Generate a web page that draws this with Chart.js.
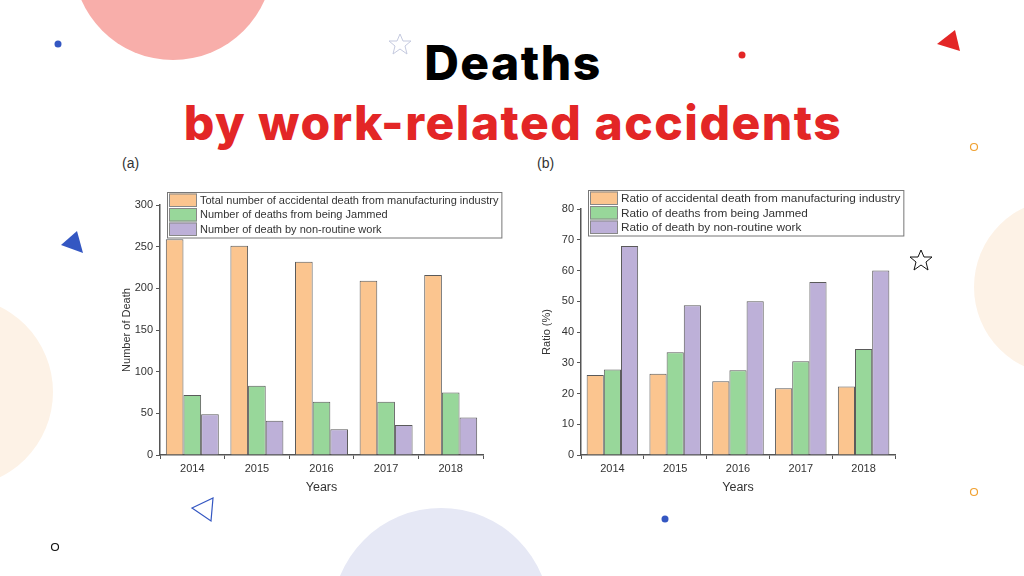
<!DOCTYPE html>
<html>
<head>
<meta charset="utf-8">
<script src="https://cdn.jsdelivr.net/npm/chart.js@4.4.1/dist/chart.umd.min.js"></script>
<style>
  html, body { margin: 0; padding: 0; background: #fff; }
  #page { position: relative; width: 1024px; height: 576px; overflow: hidden; background: #fff; }
  #deco { position: absolute; left: 0; top: 0; }
  .title { position: absolute; left: 1px; width: 1024px; text-align: center; font-family: Inter, "Noto Sans", sans-serif; font-weight: 800; white-space: nowrap; letter-spacing: 1.5px; }
  #t1 { top: 33px; font-size: 48px; color: #000; }
  #t2 { top: 93px; font-size: 48px; color: #e32626; }
  .panel { position: absolute; font-family: "Liberation Sans", Arial, sans-serif; font-size: 14px; color: #333; }
  .box { position: absolute; width: 400px; height: 360px; top: 150px; }
</style>
</head>
<body>
<div id="page">
  <svg id="deco" width="1024" height="576">
    <circle cx="173" cy="-40" r="100" fill="#f8aeaa"/>
    <circle cx="-42" cy="392" r="95" fill="#fdf2e6"/>
    <circle cx="1062" cy="287" r="88" fill="#fdf2e6"/>
    <circle cx="441" cy="617" r="109" fill="#e6e8f5"/>
    <circle cx="58" cy="44" r="3.5" fill="#3457c2"/>
    <circle cx="742" cy="55" r="3.5" fill="#e32626"/>
    <circle cx="665" cy="519" r="3.5" fill="#3457c2"/>
    <polygon points="61,245 77,231 83,253" fill="#3457c2"/>
    <polygon points="937,44 955,30 960,51" fill="#e32626"/>
    <polygon points="192,508 213,498 211,521" fill="none" stroke="#3457c2" stroke-width="1.2"/>
    <circle cx="974" cy="147" r="3.5" fill="none" stroke="#f0a030" stroke-width="1.2"/>
    <circle cx="974" cy="492" r="3.5" fill="none" stroke="#f0a030" stroke-width="1.2"/>
    <circle cx="55" cy="547" r="3.5" fill="none" stroke="#111" stroke-width="1.2"/>
    <polygon points="400,34 403,41 411,41 405,46 407,54 400,49 393,54 395,46 389,41 397,41" fill="none" stroke="#c5cadf" stroke-width="1"/>
    <polygon points="921,250 924,257 932,257 926,262 928,270 921,265 914,270 916,262 910,257 918,257" fill="none" stroke="#111" stroke-width="1"/>
  </svg>
  <div class="title" id="t1">Deaths</div>
  <div class="title" id="t2">by work-related accidents</div>
  <div class="panel" style="left:122px; top:155px;">(a)</div>
  <div class="panel" style="left:537px; top:155px;">(b)</div>
  <div class="box" style="left:110px;"><canvas id="chartA"></canvas></div>
  <div class="box" style="left:530px;"><canvas id="chartB"></canvas></div>
</div>
<script>
const years = ['2014', '2015', '2016', '2017', '2018'];

// (a) number of deaths
const totalDeaths = [259, 251, 232, 209, 216];
const jammedDeaths = [72, 83, 64, 64, 75];
const nonRoutineDeaths = [49, 41, 31, 36, 45];

// (b) ratios in %
const ratioManufacturing = [26.0, 26.4, 24.0, 21.7, 22.3];
const ratioJammed = [27.8, 33.4, 27.6, 30.5, 34.5];
const ratioNonRoutine = [68.0, 48.7, 50.0, 56.3, 60.0];

const labelsA = ['Total number of accidental death from manufacturing industry', 'Number of deaths from being Jammed', 'Number of death by non-routine work'];
const labelsB = ['Ratio of accidental death from manufacturing industry', 'Ratio of deaths from being Jammed', 'Ratio of death by non-routine work'];

const fills = ['#fbc58f', '#98d79a', '#bdb0d8'];
const edge = '#5a5a5a';
const axisColor = '#555';
const fontFam = '"Liberation Sans", Arial, sans-serif';

// legend drawn inside the plot, boxed like the original figure
const boxLegend = {
  id: 'boxLegend',
  afterDraw(chart, args, opts) {
    const c = chart.ctx;
    const a = chart.chartArea;
    const x = a.left + opts.dx, y = a.top + opts.dy;
    const rowH = 14.5;
    c.save();
    c.font = opts.size + 'px ' + fontFam;
    let w = 0;
    chart.data.datasets.forEach(d => { w = Math.max(w, c.measureText(d.label).width); });
    const bw = w + 36, bh = rowH * 3 + 2;
    c.fillStyle = '#fff';
    c.fillRect(x, y, bw, bh);
    c.strokeStyle = '#777';
    c.lineWidth = 1;
    c.strokeRect(x + 0.5, y + 0.5, bw, bh);
    chart.data.datasets.forEach((d, i) => {
      const ry = y + 1.5 + i * rowH;
      c.fillStyle = d.backgroundColor;
      c.fillRect(x + 2, ry, 28, rowH - 1);
      c.strokeStyle = '#888';
      c.strokeRect(x + 2.5, ry + 0.5, 27, rowH - 2);
      c.fillStyle = '#333';
      c.textBaseline = 'middle';
      c.fillText(d.label, x + 33, ry + rowH / 2);
    });
    c.restore();
  }
};

function makeChart(id, names, series, yMax, step, yTitle, pad, legendPos) {
  return new Chart(document.getElementById(id), {
    type: 'bar',
    data: {
      labels: years,
      datasets: series.map((s, i) => ({
        label: names[i],
        data: s,
        backgroundColor: fills[i],
        borderColor: edge,
        borderWidth: 1,
        barPercentage: 1,
        categoryPercentage: 0.82
      }))
    },
    options: {
      responsive: true,
      maintainAspectRatio: false,
      animation: false,
      layout: { padding: { top: pad.top, right: pad.right, left: 0, bottom: 0 } },
      plugins: {
        legend: { display: false },
        tooltip: { enabled: false },
        boxLegend: legendPos
      },
      scales: {
        x: {
          grid: { display: true, drawOnChartArea: false, drawTicks: true, tickLength: 4, color: axisColor },
          border: { display: true, color: axisColor, width: 1.5 },
          ticks: { color: '#333', font: { family: fontFam, size: 11 }, padding: 3 },
          title: { display: true, text: 'Years', color: '#333', font: { family: fontFam, size: 12.5 }, padding: { top: 0, bottom: 15 } },
          afterFit(s) { s.height = 55; }
        },
        y: {
          min: 0, max: yMax,
          grid: { display: true, drawOnChartArea: false, drawTicks: true, tickLength: 4, color: axisColor },
          border: { display: true, color: axisColor, width: 1.5 },
          ticks: { stepSize: step, color: '#333', font: { family: fontFam, size: 11 }, padding: 3 },
          title: { display: true, text: yTitle, color: '#333', font: { family: fontFam, size: 11 }, padding: { top: 10, bottom: 0 } },
          afterFit(s) { s.width = pad.left; }
        }
      }
    },
    plugins: [boxLegend]
  });
}

makeChart('chartA', labelsA, [totalDeaths, jammedDeaths, nonRoutineDeaths], 300, 50, 'Number of Death',
  { top: 55, right: 27, left: 50 }, { dx: 7, dy: -13, size: 11 });
makeChart('chartB', labelsB, [ratioManufacturing, ratioJammed, ratioNonRoutine], 80, 10, 'Ratio (%)',
  { top: 59, right: 35, left: 51 }, { dx: 7, dy: -19, size: 11.8 });
</script>
</body>
</html>
